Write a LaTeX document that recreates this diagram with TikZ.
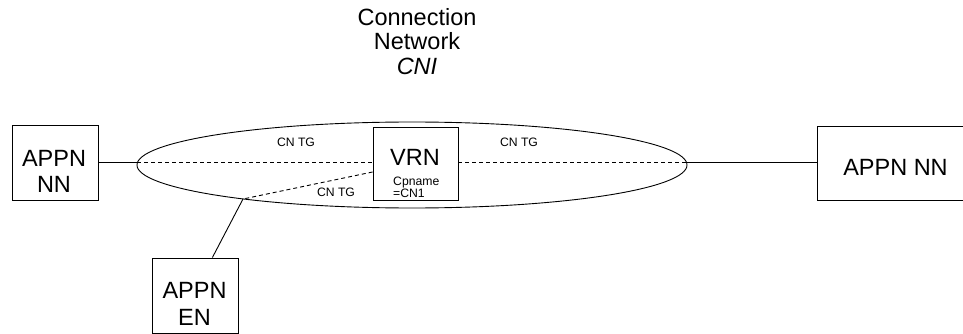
\documentclass[tikz,border=0pt]{standalone}
\usepackage{fontspec}
\setmainfont{Liberation Sans}
\usetikzlibrary{calc}
\tikzset{
  box/.style={draw, line width=0.9pt, inner sep=0pt},
  big/.style={font=\fontsize{23.5}{26}\selectfont, inner sep=0pt, anchor=base},
  small/.style={font=\fontsize{12.2}{14}\selectfont, inner sep=0pt, anchor=base},
  conn/.style={line width=0.9pt},
  dconn/.style={line width=0.9pt, dash pattern=on 4pt off 3pt},
}
\begin{document}
\begin{tikzpicture}[x=1pt,y=-1pt]
\useasboundingbox (0,0) rectangle (963,334);
\clip (0,0) rectangle (963,334);
% title
\node[big] (t1) at (417,26) {Connection};
\node[big] (t2) at (417,50) {Network};
\node[big] (t3) at (417,75) {\itshape CNI};
% ellipse (connection network)
\draw[conn] (412,165) ellipse [x radius=275, y radius=43];
\coordinate (eL) at (137.3,162);
\coordinate (eR) at (686.7,162);
\coordinate (eB) at (243,199);
% boxes
\node[box, minimum width=86, minimum height=75] (nnl) at (55,162.5) {};
\node[big] (nnl1) at (54,166) {APPN};
\node[big] (nnl2) at (54,192) {NN};
\node[box, minimum width=85, minimum height=73] (vrn) at (415.5,163.5) {};
\node[big] (vrnt) at (415,165) {VRN};
\node[small, anchor=base west] (cp1) at (393,185) {Cpname};
\node[small, anchor=base west] (cp2) at (393,197) {=CN1};
\node[box, minimum width=158, minimum height=74] (nnr) at (896,163) {};
\node[big] (nnrt) at (895.5,175) {APPN NN};
\node[box, minimum width=86, minimum height=75] (en) at (195,295.5) {};
\node[big] (en1) at (194.5,298) {APPN};
\node[big] (en2) at (194.5,325) {EN};
% connectors
\draw[conn] (eL -| nnl.east) -- (eL);
\draw[dconn] (eL) -- (eL -| vrn.west);
\draw[dconn] (eR -| vrn.east) -- (eR);
\draw[conn] (eR) -- (eR -| nnr.west);
\draw[dconn] ($(vrn.west)+(0,8.5)$) -- (eB);
\draw[conn] (eB) -- ($(en.north west)!0.70!(en.north east)$);
% labels
\node[small] (l1) at (296,146.5) {CN TG};
\node[small] (l2) at (336,196) {CN TG};
\node[small] (l3) at (519,146.5) {CN TG};
\end{tikzpicture}
\end{document}
